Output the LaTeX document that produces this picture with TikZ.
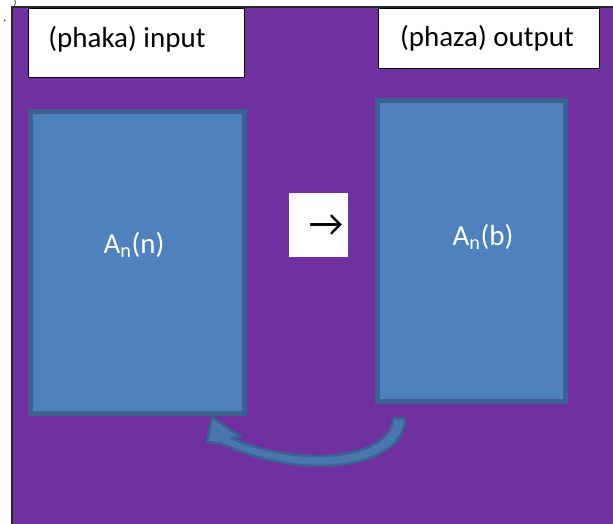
\documentclass[tikz,border=0pt]{standalone}
\usepackage{fontspec}
\setmainfont{Carlito}
\definecolor{purp}{HTML}{7030A0}
\definecolor{bluefill}{HTML}{4F81BD}
\definecolor{blueedge}{HTML}{3C6091}
\definecolor{arrfill}{HTML}{4A76AE}
\begin{document}
\begin{tikzpicture}[x=1pt,y=-1pt,
  lbl/.style={draw=black,fill=white,line width=1pt,anchor=north west,inner sep=0pt},
  blk/.style={draw=blueedge,fill=bluefill,line width=5pt,anchor=north west,inner sep=0pt},
  txt/.style={font=\fontsize{29}{32}\selectfont,inner sep=0pt},
  wtxt/.style={txt,text=white}]
\useasboundingbox (0,0) rectangle (613,524);
\fill[purp] (12,7) rectangle (613,524);
\draw[line width=1.5pt,black!85] (12,524) -- (12,7) -- (613,7);
\node[font=\fontsize{9}{10}\selectfont,inner sep=0pt] (tick) at (15,3) {)};
\node[font=\fontsize{12}{12}\selectfont,inner sep=0pt] (dot) at (5,21) {.};
% label boxes
\node[lbl,minimum width=216pt,minimum height=69pt] (inbox) at (28,8) {};
\node[txt] (intext) at (127,39) {(phaka) input};
\node[lbl,minimum width=221pt,minimum height=60pt] (outbox) at (378,8) {};
\node[txt] (outtext) at (487,38) {(phaza) output};
% blue blocks
\node[blk,minimum width=214pt,minimum height=301pt] (left) at (27.5,109.5) {};
\node[wtxt] (lefttext) at (134,245) {A\textsubscript{n}(n)};
\node[blk,minimum width=188pt,minimum height=300pt] (right) at (375,98.5) {};
\node[wtxt] (righttext) at (483,237) {A\textsubscript{n}(b)};
% arrow box
\node[fill=white,anchor=north west,minimum width=59pt,minimum height=64pt,inner sep=0pt] (abox) at (289,193) {};
\node[font=\fontsize{38}{40}\selectfont,inner sep=0pt] (arr) at (326,226) {→};
% curved block arrow
\draw[fill=arrfill,draw=blueedge,line width=2.5pt,line join=round]
  (212,417) -- (241,437) -- (231,438)
  .. controls (262,451) and (292,456) .. (318,456)
  .. controls (362,456) and (393,440) .. (393,418)
  -- (405,418)
  .. controls (406,446) and (372,466) .. (318,466)
  .. controls (286,466) and (250,457) .. (220,443)
  -- (207,442) -- cycle;
\end{tikzpicture}
\end{document}
